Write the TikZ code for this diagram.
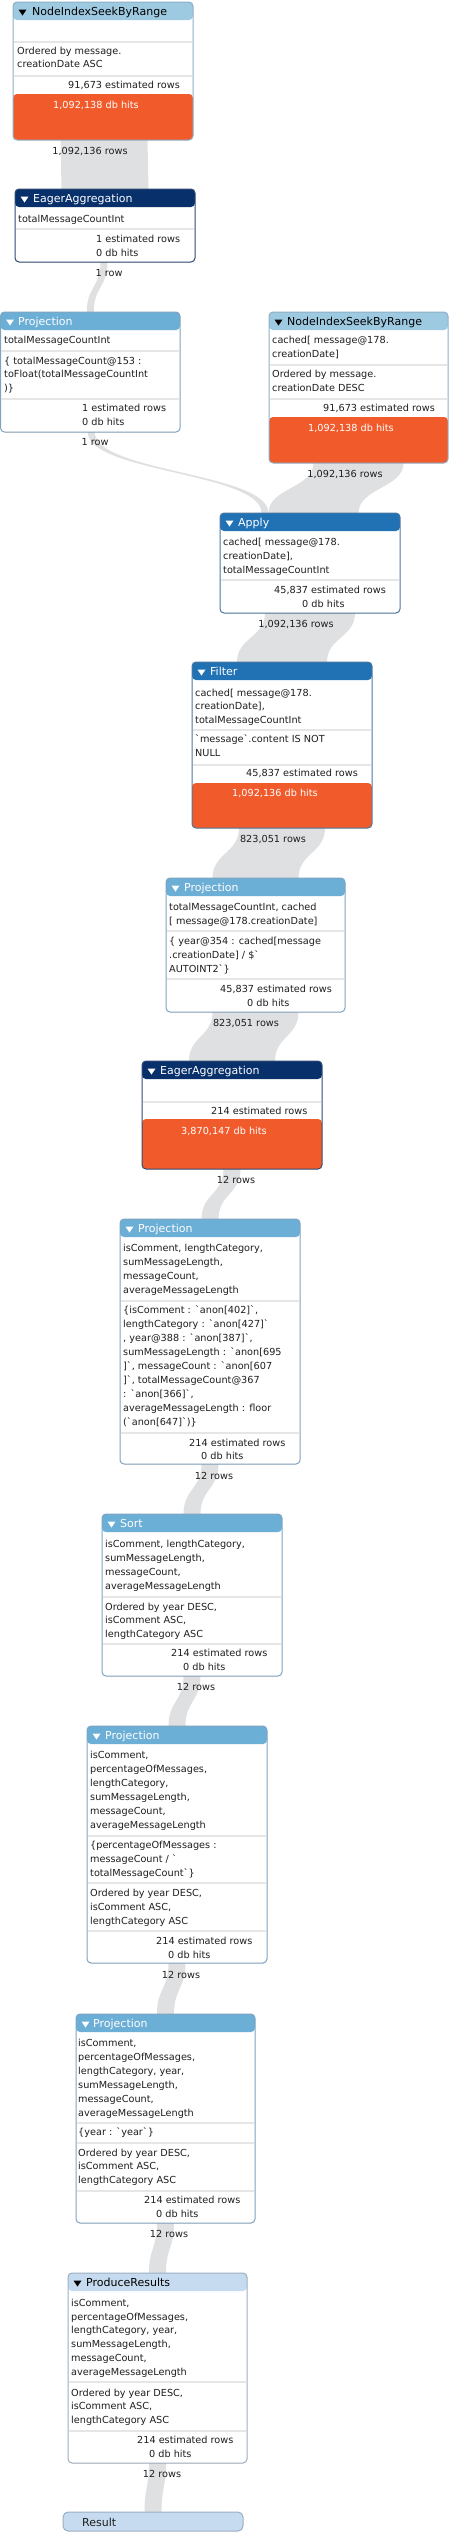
\documentclass[tikz,border=0pt]{standalone}
\usepackage{fontspec}
\newfontfamily\dvs{DejaVu Sans}
\usetikzlibrary{calc}
\pgfdeclarelayer{bg}
\pgfsetlayers{bg,main}
\definecolor{cNIS}{HTML}{9ECAE1}
\definecolor{cEA}{HTML}{08306B}
\definecolor{cPJ}{HTML}{6BAED6}
\definecolor{cAP}{HTML}{2171B5}
\definecolor{cPR}{HTML}{C6DBEF}
\definecolor{bNIS}{HTML}{8DAFC6}
\definecolor{bEA}{HTML}{2E4A72}
\definecolor{bPJ}{HTML}{7FA4C1}
\definecolor{bAP}{HTML}{4C779E}
\definecolor{bPR}{HTML}{9DAEC0}
\definecolor{orng}{HTML}{F15B2C}
\definecolor{bandcol}{HTML}{DFE0E2}
\definecolor{sepc}{HTML}{E6E6E6}
\definecolor{txtc}{HTML}{1E1E1E}
\newcounter{tn}
\newcommand\opBox[8]{%
  \node[opnode, draw=#7, minimum width=#4-#2, minimum height=#5-#3,
    path picture={%
      \fill[#6] (path picture bounding box.north west) rectangle ([yshift=-18pt]path picture bounding box.north east);
      \fill[orng] (path picture bounding box.south west) rectangle ([yshift=#8pt]path picture bounding box.south east);
    }] (#1) at (#2,#3) {};}
\newcommand\opTri[3]{\fill[#3] (#1+5.5,#2+7.5) -- (#1+13.5,#2+7.5) -- (#1+9.5,#2+13.5) -- cycle;}
\newcommand\opHd[4]{\stepcounter{tn}\node[ht,text=#4] (h\arabic{tn}) at (#1,#2) {#3};}
\newcommand\opTx[4][]{\stepcounter{tn}\node[bt,#1] (t\arabic{tn}) at (#2,#3) {#4};}
\newcommand\opSep[3]{\draw[sepl] (#1+1,#3) -- (#2-1,#3);}
\newcommand\opBand[6]{%
  \fill[bandcol] let \p1=($(#1.south)+(#2pt,0pt)$), \p2=($(#3.north)+(#4pt,0pt)$), \p3=($(\p1)!0.5!(\p2)$) in
   (\x1-#5pt,\y1) .. controls (\x1-#5pt,\y3) and (\x2-#6pt,\y3) .. (\x2-#6pt,\y2)
   -- (\x2+#6pt,\y2) .. controls (\x2+#6pt,\y3) and (\x1+#5pt,\y3) .. (\x1+#5pt,\y1) -- cycle;}
\begin{document}
\begin{tikzpicture}[x=1pt,y=-1pt,
  opnode/.style={rectangle, rounded corners=4pt, fill=white, inner sep=0pt, outer sep=0pt, anchor=north west, line width=1pt},
  bt/.style={anchor=base west, inner sep=0pt, font=\dvs\fontsize{9.7}{12}\selectfont, text=txtc},
  ht/.style={anchor=base west, inner sep=0pt, font=\dvs\fontsize{11}{13}\selectfont},
  lbl/.style={anchor=base, inner sep=0pt, font=\dvs\fontsize{9.7}{12}\selectfont, text=txtc},
  sepl/.style={draw=sepc, line width=1.5pt}]
\useasboundingbox (0,0) rectangle (449,2533);

% NodeIndexSeekByRange 1
\opBox{nis1}{13}{2}{193}{140}{cNIS}{bNIS}{46}
\opTri{13}{2}{black}
\opHd{32}{15}{NodeIndexSeekByRange}{black}
\opSep{13}{193}{42}
\opSep{13}{193}{76}
\opTx{17}{54}{Ordered by message.}
\opTx{17}{67}{creationDate ASC}
\opTx{68}{88}{91,673 estimated rows}
\opTx[text=white]{53}{108}{1,092,138 db hits}

% EagerAggregation 1
\opBox{ea1}{15}{189}{195}{262}{cEA}{bEA}{0}
\opTri{15}{189}{white}
\opHd{33}{202}{EagerAggregation}{white}
\opSep{15}{195}{229}
\opTx{18}{222}{totalMessageCountInt}
\opTx{96}{242}{1 estimated rows}
\opTx{96}{256}{0 db hits}

% Projection 1
\opBox{pj1}{0.5}{312}{180}{432}{cPJ}{bPJ}{0}
\opTri{0.5}{312}{white}
\opHd{18}{325}{Projection}{white}
\opSep{0}{180}{351}
\opSep{0}{180}{399}
\opTx{4}{343}{totalMessageCountInt}
\opTx{4}{364}{\{ totalMessageCount@153 :}
\opTx{4}{377}{toFloat(totalMessageCountInt}
\opTx{4}{391}{)\}}
\opTx{82}{411}{1 estimated rows}
\opTx{82}{425}{0 db hits}

% NodeIndexSeekByRange 2
\opBox{nis2}{269}{312}{448}{463}{cNIS}{bNIS}{46}
\opTri{269}{312}{black}
\opHd{287}{325}{NodeIndexSeekByRange}{black}
\opSep{269}{448}{365}
\opSep{269}{448}{399}
\opTx{272}{343}{cached[ message@178.}
\opTx{272}{357}{creationDate]}
\opTx{272}{377}{Ordered by message.}
\opTx{272}{391}{creationDate DESC}
\opTx{323}{411}{91,673 estimated rows}
\opTx[text=white]{308}{431}{1,092,138 db hits}

% Apply
\opBox{apply}{220}{513}{400}{613}{cAP}{bAP}{0}
\opTri{220}{513}{white}
\opHd{238}{526}{Apply}{white}
\opSep{220}{400}{580}
\opTx{223}{545}{cached[ message@178.}
\opTx{223}{559}{creationDate],}
\opTx{223}{573}{totalMessageCountInt}
\opTx{274}{593}{45,837 estimated rows}
\opTx{302}{607}{0 db hits}

% Filter
\opBox{filter}{192}{662}{372}{828}{cAP}{bAP}{45}
\opTri{192}{662}{white}
\opHd{210}{675}{Filter}{white}
\opSep{192}{372}{730}
\opSep{192}{372}{765}
\opTx{195}{696}{cached[ message@178.}
\opTx{195}{709}{creationDate],}
\opTx{195}{723}{totalMessageCountInt}
\opTx{195}{742}{`message`.content IS NOT}
\opTx{195}{756}{NULL}
\opTx{246}{776}{45,837 estimated rows}
\opTx[text=white]{232}{796}{1,092,136 db hits}

% Projection 2
\opBox{pj2}{166}{878}{345}{1012}{cPJ}{bPJ}{0}
\opTri{166}{878}{white}
\opHd{184}{891}{Projection}{white}
\opSep{166}{345}{931}
\opSep{166}{345}{979}
\opTx{169}{910}{totalMessageCountInt, cached}
\opTx{169}{924}{[ message@178.creationDate]}
\opTx{169}{944}{\{ year@354 : cached[message}
\opTx{169}{958}{.creationDate] / \$`}
\opTx{169}{972}{AUTOINT2`\}}
\opTx{220}{992}{45,837 estimated rows}
\opTx{247}{1006}{0 db hits}

% EagerAggregation 2
\opBox{ea2}{142}{1061}{322}{1169}{cEA}{bEA}{50}
\opTri{142}{1061}{white}
\opHd{160}{1074}{EagerAggregation}{white}
\opSep{142}{322}{1102}
\opTx{211}{1114}{214 estimated rows}
\opTx[text=white]{181}{1134}{3,870,147 db hits}

% Projection 3
\opBox{pj3}{120}{1219}{300}{1464}{cPJ}{bPJ}{0}
\opTri{120}{1219}{white}
\opHd{138}{1232}{Projection}{white}
\opSep{120}{300}{1301}
\opSep{120}{300}{1433}
\opTx{123}{1251}{isComment, lengthCategory,}
\opTx{123}{1265}{sumMessageLength,}
\opTx{123}{1279}{messageCount,}
\opTx{123}{1293}{averageMessageLength}
\opTx{123}{1313}{\{isComment : `anon[402]`,}
\opTx{123}{1327}{lengthCategory : `anon[427]`}
\opTx{123}{1341}{, year@388 : `anon[387]`,}
\opTx{123}{1355}{sumMessageLength : `anon[695}
\opTx{123}{1369}{]`, messageCount : `anon[607}
\opTx{123}{1383}{]`, totalMessageCount@367}
\opTx{123}{1397}{: `anon[366]`,}
\opTx{123}{1411}{averageMessageLength : floor}
\opTx{123}{1425}{(`anon[647]`)\}}
\opTx{189}{1446}{214 estimated rows}
\opTx{201}{1459}{0 db hits}

% Sort
\opBox{sort}{102}{1514}{282}{1676}{cPJ}{bPJ}{0}
\opTri{102}{1514}{white}
\opHd{120}{1527}{Sort}{white}
\opSep{102}{282}{1597}
\opSep{102}{282}{1644}
\opTx{105}{1547}{isComment, lengthCategory,}
\opTx{105}{1561}{sumMessageLength,}
\opTx{105}{1575}{messageCount,}
\opTx{105}{1589}{averageMessageLength}
\opTx{105}{1610}{Ordered by year DESC,}
\opTx{105}{1623}{isComment ASC,}
\opTx{105}{1637}{lengthCategory ASC}
\opTx{171}{1656}{214 estimated rows}
\opTx{183}{1670}{0 db hits}

% Projection 4
\opBox{pj4}{87}{1726}{267}{1963}{cPJ}{bPJ}{0}
\opTri{87}{1726}{white}
\opHd{105}{1739}{Projection}{white}
\opSep{87}{267}{1836}
\opSep{87}{267}{1883}
\opSep{87}{267}{1931}
\opTx{90}{1758}{isComment,}
\opTx{90}{1772}{percentageOfMessages,}
\opTx{90}{1786}{lengthCategory,}
\opTx{90}{1800}{sumMessageLength,}
\opTx{90}{1814}{messageCount,}
\opTx{90}{1828}{averageMessageLength}
\opTx{90}{1848}{\{percentageOfMessages :}
\opTx{90}{1862}{messageCount / `}
\opTx{90}{1876}{totalMessageCount`\}}
\opTx{90}{1896}{Ordered by year DESC,}
\opTx{90}{1910}{isComment ASC,}
\opTx{90}{1924}{lengthCategory ASC}
\opTx{156}{1944}{214 estimated rows}
\opTx{168}{1958}{0 db hits}

% Projection 5
\opBox{pj5}{76}{2014}{255}{2223}{cPJ}{bPJ}{0}
\opTri{76}{2014}{white}
\opHd{93}{2027}{Projection}{white}
\opSep{76}{255}{2123}
\opSep{76}{255}{2143}
\opSep{76}{255}{2191}
\opTx{78}{2046}{isComment,}
\opTx{78}{2060}{percentageOfMessages,}
\opTx{78}{2074}{lengthCategory, year,}
\opTx{78}{2088}{sumMessageLength,}
\opTx{78}{2102}{messageCount,}
\opTx{78}{2116}{averageMessageLength}
\opTx{78}{2135}{\{year : `year`\}}
\opTx{78}{2156}{Ordered by year DESC,}
\opTx{78}{2169}{isComment ASC,}
\opTx{78}{2183}{lengthCategory ASC}
\opTx{144}{2203}{214 estimated rows}
\opTx{156}{2217}{0 db hits}

% ProduceResults
\opBox{pres}{68}{2273}{247}{2463}{cPR}{bPR}{0}
\opTri{68}{2273}{black}
\opHd{86}{2286}{ProduceResults}{black}
\opSep{68}{247}{2382}
\opSep{68}{247}{2431}
\opTx{71}{2306}{isComment,}
\opTx{71}{2320}{percentageOfMessages,}
\opTx{71}{2333}{lengthCategory, year,}
\opTx{71}{2347}{sumMessageLength,}
\opTx{71}{2361}{messageCount,}
\opTx{71}{2375}{averageMessageLength}
\opTx{71}{2396}{Ordered by year DESC,}
\opTx{71}{2409}{isComment ASC,}
\opTx{71}{2423}{lengthCategory ASC}
\opTx{137}{2443}{214 estimated rows}
\opTx{149}{2457}{0 db hits}

% Result
\node[opnode, draw=bPR, fill=cPR, rounded corners=5pt, minimum width=180, minimum height=19] (res) at (63,2512) {};
\opHd{82}{2526}{Result}{txtc}

% flow labels
\node[lbl] (l1) at (90,154) {1,092,136 rows};
\node[lbl] (l2) at (109,276) {1 row};
\node[lbl] (l3) at (95,445) {1 row};
\node[lbl] (l4) at (345,477) {1,092,136 rows};
\node[lbl] (l5) at (296,627) {1,092,136 rows};
\node[lbl] (l6) at (273,842) {823,051 rows};
\node[lbl] (l7) at (246,1026) {823,051 rows};
\node[lbl] (l8) at (236,1183) {12 rows};
\node[lbl] (l9) at (214,1479) {12 rows};
\node[lbl] (l10) at (196,1690) {12 rows};
\node[lbl] (l11) at (181,1978) {12 rows};
\node[lbl] (l12) at (169,2237) {12 rows};
\node[lbl] (l13) at (162,2477) {12 rows};

% flow bands
\begin{pgfonlayer}{bg}
\opBand{nis1}{1}{ea1}{0}{43.5}{43.5}
\opBand{ea1}{-1}{pj1}{0}{3.5}{3.5}
\opBand{pj1}{1}{apply}{-45}{3.5}{3.5}
\opBand{nis2}{0}{apply}{3.5}{45}{45}
\opBand{apply}{0}{filter}{0}{45}{45}
\opBand{filter}{0}{pj2}{0}{43}{43}
\opBand{pj2}{0}{ea2}{0}{43}{43}
\opBand{ea2}{0}{pj3}{0}{8.5}{8.5}
\opBand{pj3}{0}{sort}{0}{8.5}{8.5}
\opBand{sort}{0}{pj4}{0}{8.5}{8.5}
\opBand{pj4}{0}{pj5}{0}{8.5}{8.5}
\opBand{pj5}{0}{pres}{0}{8.5}{8.5}
\opBand{pres}{0}{res}{0}{8.5}{8.5}
\end{pgfonlayer}
\end{tikzpicture}
\end{document}
